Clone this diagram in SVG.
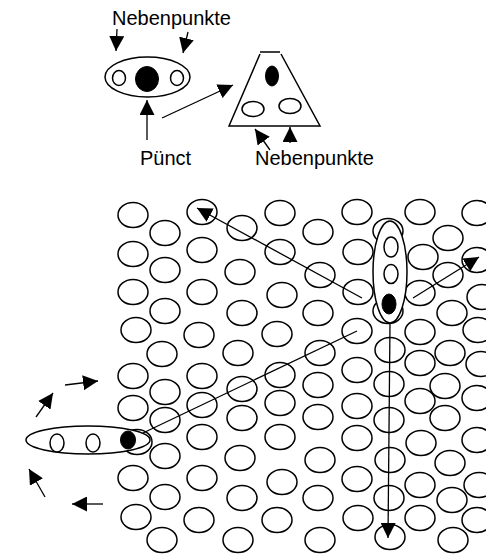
<svg xmlns="http://www.w3.org/2000/svg" width="486" height="555" viewBox="0 0 486 555">
  <style>
    .o { fill: #fff; stroke: #000; stroke-width: 1.5; }
    .f { fill: #000; stroke: #000; stroke-width: 1; }
    .ln { fill: none; stroke: #000; stroke-width: 1.3; }
    .lbl { font-family: "Liberation Sans", Arial, sans-serif; font-size: 20px; fill: #000; }
    #grid ellipse { fill: none; stroke: #000; stroke-width: 1.5; }
  </style>
  <defs>
    <marker id="head" viewBox="0 0 15 15" refX="15" refY="7.5" markerWidth="15" markerHeight="15" markerUnits="userSpaceOnUse" orient="auto">
      <path d="M0,0 L15,7.5 L0,15 z" fill="#000"/>
    </marker>
  </defs>

  <rect width="486" height="555" fill="#fff"/>

  <!-- point with two side points -->
  <g id="point-group">
    <ellipse class="o" cx="147.5" cy="77" rx="42.5" ry="20"/>
    <ellipse class="o" cx="119" cy="78" rx="6.5" ry="7.5"/>
    <ellipse class="f" cx="147" cy="79" rx="11.5" ry="12.5"/>
    <ellipse class="o" cx="177" cy="78" rx="6.5" ry="7.5"/>
  </g>

  <!-- triangle with point and side points -->
  <g id="triangle">
    <path class="o" d="M260,52 L280,52 M260,54 L229,126 L320,126 L281,54"/>
    <ellipse class="f" cx="272" cy="76" rx="6.5" ry="10"/>
    <ellipse class="o" cx="253" cy="109" rx="11" ry="7.5"/>
    <ellipse class="o" cx="290" cy="106" rx="11" ry="7.5"/>
  </g>

  <g id="labels">
    <text class="lbl" x="112" y="25">Nebenpunkte</text>
    <text class="lbl" x="140" y="165">Pünct</text>
    <text class="lbl" x="255" y="165">Nebenpunkte</text>
  </g>

  <!-- field of cells -->
  <g id="grid">
    <ellipse cx="133" cy="215" rx="15" ry="12.5"/>
    <ellipse cx="133" cy="254" rx="15" ry="12.5"/>
    <ellipse cx="133" cy="292" rx="15" ry="12.5"/>
    <ellipse cx="136" cy="330" rx="15" ry="12.5"/>
    <ellipse cx="133" cy="376" rx="15" ry="12.5"/>
    <ellipse cx="133" cy="408" rx="15" ry="12.5"/>
    <ellipse cx="137" cy="442" rx="15" ry="12.5"/>
    <ellipse cx="133" cy="478" rx="15" ry="12.5"/>
    <ellipse cx="136" cy="517" rx="15" ry="12.5"/>

    <ellipse cx="165" cy="233" rx="15" ry="12.5"/>
    <ellipse cx="165" cy="270" rx="15" ry="12.5"/>
    <ellipse cx="165" cy="311" rx="15" ry="12.5"/>
    <ellipse cx="162" cy="354" rx="15" ry="12.5"/>
    <ellipse cx="165" cy="392" rx="15" ry="12.5"/>
    <ellipse cx="165" cy="420" rx="15" ry="12.5"/>
    <ellipse cx="165" cy="456" rx="15" ry="12.5"/>
    <ellipse cx="165" cy="497" rx="15" ry="12.5"/>
    <ellipse cx="162" cy="540" rx="15" ry="12.5"/>

    <ellipse cx="202" cy="212" rx="15" ry="12.5"/>
    <ellipse cx="202" cy="250" rx="15" ry="12.5"/>
    <ellipse cx="202" cy="292" rx="15" ry="12.5"/>
    <ellipse cx="199" cy="335" rx="15" ry="12.5"/>
    <ellipse cx="202" cy="376" rx="15" ry="12.5"/>
    <ellipse cx="202" cy="405" rx="15" ry="12.5"/>
    <ellipse cx="202" cy="437" rx="15" ry="12.5"/>
    <ellipse cx="202" cy="478" rx="15" ry="12.5"/>
    <ellipse cx="199" cy="520" rx="15" ry="12.5"/>

    <ellipse cx="242" cy="228" rx="15" ry="12.5"/>
    <ellipse cx="240" cy="272" rx="15" ry="12.5"/>
    <ellipse cx="242" cy="313" rx="15" ry="12.5"/>
    <ellipse cx="238" cy="353" rx="15" ry="12.5"/>
    <ellipse cx="242" cy="389" rx="15" ry="12.5"/>
    <ellipse cx="242" cy="418" rx="15" ry="12.5"/>
    <ellipse cx="240" cy="458" rx="15" ry="12.5"/>
    <ellipse cx="242" cy="498" rx="15" ry="12.5"/>
    <ellipse cx="238" cy="540" rx="15" ry="12.5"/>

    <ellipse cx="280" cy="213" rx="15" ry="12.5"/>
    <ellipse cx="280" cy="252" rx="15" ry="12.5"/>
    <ellipse cx="282" cy="295" rx="15" ry="12.5"/>
    <ellipse cx="277" cy="334" rx="15" ry="12.5"/>
    <ellipse cx="280" cy="375" rx="15" ry="12.5"/>
    <ellipse cx="280" cy="403" rx="15" ry="12.5"/>
    <ellipse cx="280" cy="437" rx="15" ry="12.5"/>
    <ellipse cx="282" cy="482" rx="15" ry="12.5"/>
    <ellipse cx="277" cy="520" rx="15" ry="12.5"/>

    <ellipse cx="318" cy="232" rx="15" ry="12.5"/>
    <ellipse cx="320" cy="275" rx="15" ry="12.5"/>
    <ellipse cx="318" cy="313" rx="15" ry="12.5"/>
    <ellipse cx="320" cy="353" rx="15" ry="12.5"/>
    <ellipse cx="318" cy="385" rx="15" ry="12.5"/>
    <ellipse cx="318" cy="417" rx="15" ry="12.5"/>
    <ellipse cx="320" cy="460" rx="15" ry="12.5"/>
    <ellipse cx="318" cy="498" rx="15" ry="12.5"/>
    <ellipse cx="320" cy="540" rx="15" ry="12.5"/>

    <ellipse cx="357" cy="212" rx="15" ry="12.5"/>
    <ellipse cx="358" cy="252" rx="15" ry="12.5"/>
    <ellipse cx="358" cy="292" rx="15" ry="12.5"/>
    <ellipse cx="357" cy="331" rx="15" ry="12.5"/>
    <ellipse cx="357" cy="370" rx="15" ry="12.5"/>
    <ellipse cx="357" cy="406" rx="15" ry="12.5"/>
    <ellipse cx="357" cy="438" rx="15" ry="12.5"/>
    <ellipse cx="357" cy="479" rx="15" ry="12.5"/>
    <ellipse cx="358" cy="518" rx="15" ry="12.5"/>

    <ellipse cx="388" cy="231" rx="15" ry="12.5"/>
    <ellipse cx="388" cy="311" rx="15" ry="12.5"/>
    <ellipse cx="390" cy="350" rx="15" ry="12.5"/>
    <ellipse cx="389" cy="384" rx="15" ry="12.5"/>
    <ellipse cx="389" cy="420" rx="15" ry="12.5"/>
    <ellipse cx="390" cy="460" rx="15" ry="12.5"/>
    <ellipse cx="389" cy="498" rx="15" ry="12.5"/>
    <ellipse cx="390" cy="537" rx="15" ry="12.5"/>

    <ellipse cx="420" cy="212" rx="15" ry="12.5"/>
    <ellipse cx="423" cy="257" rx="15" ry="12.5"/>
    <ellipse cx="420" cy="293" rx="15" ry="12.5"/>
    <ellipse cx="420" cy="332" rx="15" ry="12.5"/>
    <ellipse cx="420" cy="363" rx="15" ry="12.5"/>
    <ellipse cx="420" cy="401" rx="15" ry="12.5"/>
    <ellipse cx="421" cy="443" rx="15" ry="12.5"/>
    <ellipse cx="420" cy="485" rx="15" ry="12.5"/>
    <ellipse cx="420" cy="518" rx="15" ry="12.5"/>

    <ellipse cx="448" cy="238" rx="15" ry="12.5"/>
    <ellipse cx="448" cy="275" rx="15" ry="12.5"/>
    <ellipse cx="452" cy="313" rx="15" ry="12.5"/>
    <ellipse cx="450" cy="353" rx="15" ry="12.5"/>
    <ellipse cx="445" cy="386" rx="15" ry="12.5"/>
    <ellipse cx="445" cy="418" rx="15" ry="12.5"/>
    <ellipse cx="450" cy="463" rx="15" ry="12.5"/>
    <ellipse cx="452" cy="500" rx="15" ry="12.5"/>
    <ellipse cx="453" cy="540" rx="15" ry="12.5"/>

    <ellipse cx="477" cy="213" rx="15" ry="12.5"/>
    <ellipse cx="477" cy="260" rx="15" ry="12.5"/>
    <ellipse cx="482" cy="297" rx="15" ry="12.5"/>
    <ellipse cx="478" cy="330" rx="15" ry="12.5"/>
    <ellipse cx="481" cy="364" rx="15" ry="12.5"/>
    <ellipse cx="477" cy="398" rx="15" ry="12.5"/>
    <ellipse cx="477" cy="440" rx="15" ry="12.5"/>
    <ellipse cx="479" cy="485" rx="15" ry="12.5"/>
    <ellipse cx="477" cy="520" rx="15" ry="12.5"/>
  </g>

  <!-- vertical chain of points -->
  <g id="chain-vertical">
    <ellipse class="o" cx="390" cy="272" rx="17" ry="51"/>
    <ellipse class="o" cx="391" cy="247" rx="7" ry="10"/>
    <ellipse class="o" cx="391" cy="274" rx="7" ry="9.5"/>
    <ellipse class="f" cx="389" cy="304" rx="7" ry="10"/>
  </g>

  <!-- horizontal chain of points -->
  <g id="chain-horizontal">
    <ellipse class="o" cx="88" cy="440" rx="62" ry="14"/>
    <ellipse class="o" cx="57" cy="443" rx="7" ry="9"/>
    <ellipse class="o" cx="93" cy="443" rx="7" ry="9"/>
    <ellipse class="f" cx="128" cy="440" rx="7.5" ry="9"/>
  </g>

  <g id="connectors">
    <!-- top diagram -->
    <line class="ln" x1="117" y1="29" x2="116" y2="51" marker-end="url(#head)"/>
    <line class="ln" x1="188" y1="32" x2="183" y2="53" marker-end="url(#head)"/>
    <line class="ln" x1="147" y1="140" x2="147" y2="100" marker-end="url(#head)"/>
    <line class="ln" x1="162" y1="118" x2="233" y2="85" marker-end="url(#head)"/>
    <line class="ln" x1="270" y1="150" x2="255" y2="129" marker-end="url(#head)"/>
    <line class="ln" x1="290" y1="143" x2="290" y2="127" marker-end="url(#head)"/>

    <!-- moves through the field -->
    <line class="ln" x1="362" y1="298" x2="197" y2="208" marker-end="url(#head)"/>
    <line class="ln" x1="413" y1="298" x2="479" y2="257" marker-end="url(#head)"/>
    <line class="ln" x1="143" y1="433" x2="357" y2="331"/>
    <line class="ln" x1="390" y1="323" x2="388" y2="538" marker-end="url(#head)"/>

    <!-- rotation arrows around the horizontal chain -->
    <line class="ln" x1="65" y1="385" x2="98" y2="381" marker-end="url(#head)"/>
    <line class="ln" x1="36" y1="417" x2="53" y2="393" marker-end="url(#head)"/>
    <line class="ln" x1="45" y1="497" x2="29" y2="469" marker-end="url(#head)"/>
    <line class="ln" x1="103" y1="504" x2="72" y2="504" marker-end="url(#head)"/>
  </g>
</svg>
